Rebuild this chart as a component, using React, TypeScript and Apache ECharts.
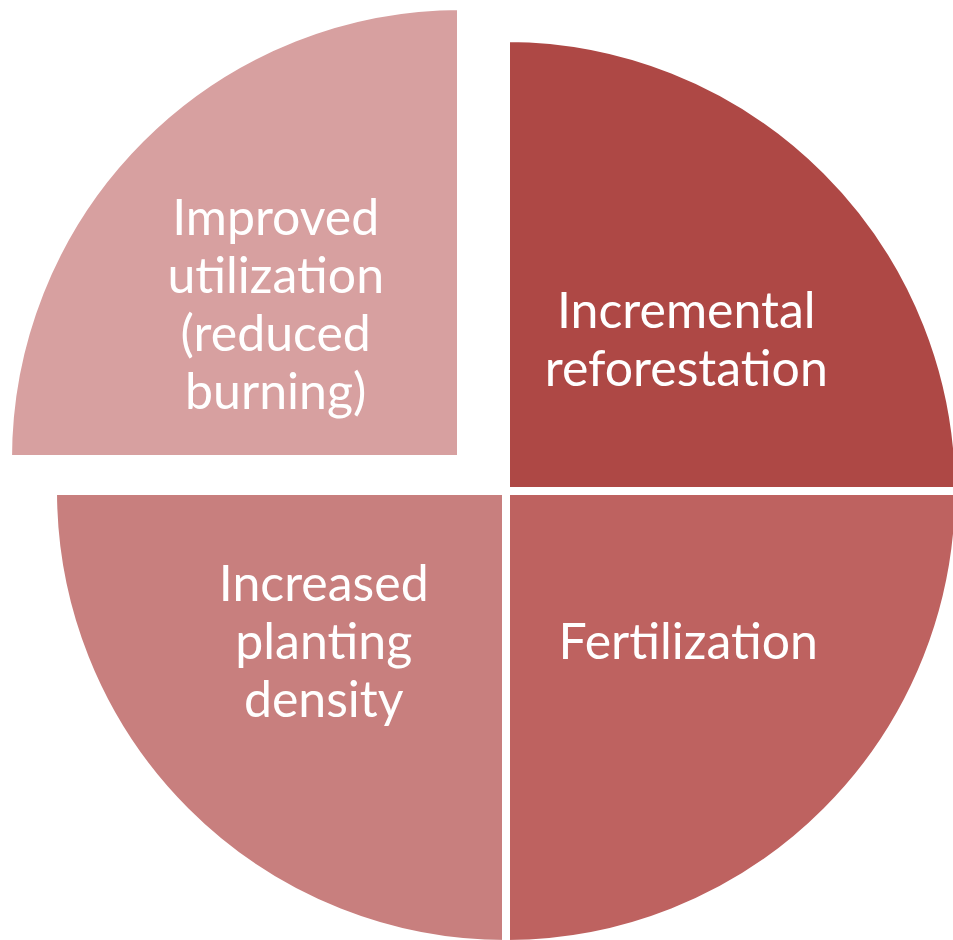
import React, { useEffect, useRef } from "react";
import * as echarts from "echarts";

const categories = [
  "Incremental\nreforestation",
  "Fertilization",
  "Increased\nplanting\ndensity",
  "Improved\nutilization\n(reduced\nburning)",
];
const values = [1, 1, 1, 1];
const colors = ["#AE4845", "#BE6260", "#C87F7E", "#D7A0A0"];
const explodedIndex = 3;
const labelOffsets: number[][] = [
  [18, 9],
  [20, -13],
  [-20, -13],
  [-23, 6],
];

export default function App() {
  const ref = useRef<HTMLDivElement>(null);
  useEffect(() => {
    const chart = echarts.init(ref.current!, null, { renderer: "svg" });
    const makeData = (visible: (i: number) => boolean) =>
      categories.map((name, i) => ({
        name,
        value: values[i],
        itemStyle: visible(i)
          ? { color: colors[i], borderColor: "#ffffff", borderWidth: 8 }
          : { color: "rgba(0,0,0,0)", borderWidth: 0 },
        label: visible(i)
          ? { show: true, offset: labelOffsets[i] }
          : { show: false },
      }));
    const common = {
      type: "pie",
      radius: [0, 453],
      startAngle: 90,
      clockwise: true,
      silent: true,
      labelLine: { show: false },
      label: {
        position: "inside",
        color: "#ffffff",
        fontFamily: "Lato",
        fontSize: 50,
        lineHeight: 58,
        align: "center",
        formatter: "{b}",
      },
      emphasis: { disabled: true },
    };
    chart.setOption({
      animation: false,
      backgroundColor: "#ffffff",
      series: [
        {
          ...common,
          center: [506, 491],
          data: makeData((i) => i !== explodedIndex),
        },
        {
          ...common,
          center: [461, 459],
          data: makeData((i) => i === explodedIndex),
        },
      ],
    });
    return () => chart.dispose();
  }, []);
  return (
    <div
      ref={ref}
      style={{ position: "fixed", left: 0, top: 0, width: 953, height: 940 }}
    />
  );
}
